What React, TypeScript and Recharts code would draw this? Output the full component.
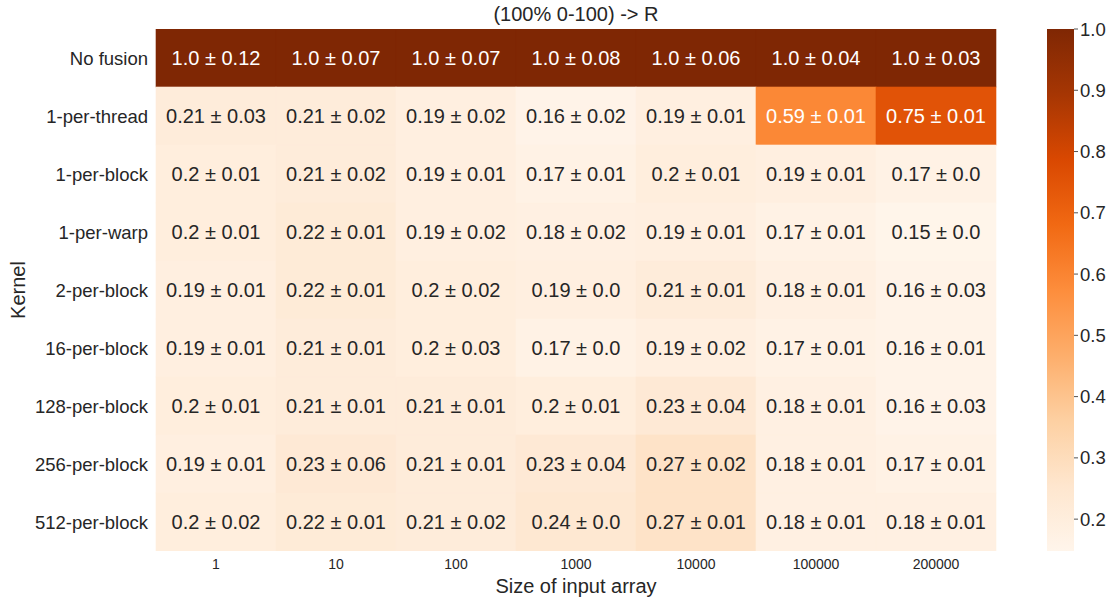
import React from 'react';
import { BarChart, Bar, XAxis, YAxis } from 'recharts';

const sizes = ['1', '10', '100', '1000', '10000', '100000', '200000'];
const kernels = [
  'No fusion', '1-per-thread', '1-per-block', '1-per-warp', '2-per-block',
  '16-per-block', '128-per-block', '256-per-block', '512-per-block',
];

const meanNoFusion = [1.0, 1.0, 1.0, 1.0, 1.0, 1.0, 1.0];
const stdNoFusion = [0.12, 0.07, 0.07, 0.08, 0.06, 0.04, 0.03];
const mean1PerThread = [0.21, 0.21, 0.19, 0.16, 0.19, 0.59, 0.75];
const std1PerThread = [0.03, 0.02, 0.02, 0.02, 0.01, 0.01, 0.01];
const mean1PerBlock = [0.2, 0.21, 0.19, 0.17, 0.2, 0.19, 0.17];
const std1PerBlock = [0.01, 0.02, 0.01, 0.01, 0.01, 0.01, 0.0];
const mean1PerWarp = [0.2, 0.22, 0.19, 0.18, 0.19, 0.17, 0.15];
const std1PerWarp = [0.01, 0.01, 0.02, 0.02, 0.01, 0.01, 0.0];
const mean2PerBlock = [0.19, 0.22, 0.2, 0.19, 0.21, 0.18, 0.16];
const std2PerBlock = [0.01, 0.01, 0.02, 0.0, 0.01, 0.01, 0.03];
const mean16PerBlock = [0.19, 0.21, 0.2, 0.17, 0.19, 0.17, 0.16];
const std16PerBlock = [0.01, 0.01, 0.03, 0.0, 0.02, 0.01, 0.01];
const mean128PerBlock = [0.2, 0.21, 0.21, 0.2, 0.23, 0.18, 0.16];
const std128PerBlock = [0.01, 0.01, 0.01, 0.01, 0.04, 0.01, 0.03];
const mean256PerBlock = [0.19, 0.23, 0.21, 0.23, 0.27, 0.18, 0.17];
const std256PerBlock = [0.01, 0.06, 0.01, 0.04, 0.02, 0.01, 0.01];
const mean512PerBlock = [0.2, 0.22, 0.21, 0.24, 0.27, 0.18, 0.18];
const std512PerBlock = [0.02, 0.01, 0.02, 0.0, 0.01, 0.01, 0.01];

const colorbarTicks = [0.2, 0.3, 0.4, 0.5, 0.6, 0.7, 0.8, 0.9, 1.0];
const vMin = 0.148;
const vMax = 1.0;

const means = [meanNoFusion, mean1PerThread, mean1PerBlock, mean1PerWarp, mean2PerBlock, mean16PerBlock, mean128PerBlock, mean256PerBlock, mean512PerBlock];
const stds = [stdNoFusion, std1PerThread, std1PerBlock, std1PerWarp, std2PerBlock, std16PerBlock, std128PerBlock, std256PerBlock, std512PerBlock];

const ORANGES: number[][] = [
  [255, 245, 235], [254, 230, 206], [253, 208, 162], [253, 174, 107], [253, 141, 60],
  [241, 105, 19], [217, 72, 1], [166, 54, 3], [127, 39, 4],
];

function orangesRgb(t: number): number[] {
  const c = Math.max(0, Math.min(1, t)) * (ORANGES.length - 1);
  const i = Math.min(Math.floor(c), ORANGES.length - 2);
  const f = c - i;
  const a = ORANGES[i];
  const b = ORANGES[i + 1];
  return [0, 1, 2].map((k) => a[k] + (b[k] - a[k]) * f);
}
const rgbStr = (c: number[]) => `rgb(${c.map((v) => Math.round(v)).join(',')})`;
function lum(c: number[]) {
  const l = c.map((v) => {
    const s = v / 255;
    return s <= 0.03928 ? s / 12.92 : Math.pow((s + 0.055) / 1.055, 2.4);
  });
  return 0.2126 * l[0] + 0.7152 * l[1] + 0.0722 * l[2];
}
const fmt = (n: number) => (Number.isInteger(n) ? n.toFixed(1) : String(n));

const FONT = '"Liberation Sans", Arial, sans-serif';
const TXT = '#262626';

const data = sizes.map((s, col) => ({ size: s, col }));
const gradStops = ORANGES.map((c, i) => ({ offset: i / (ORANGES.length - 1), color: rgbStr(c) }));

export default function App() {
  return (
    <div style={{ position: 'absolute', left: 0, top: 0, width: 1116, height: 601, background: '#fff', fontFamily: FONT }}>
      <div style={{ position: 'absolute', left: 156, width: 840, top: 3, textAlign: 'center', fontSize: 20, color: TXT, fontFamily: FONT, lineHeight: '22px' }}>
        (100% 0-100) -&gt; R
      </div>
      <div style={{ position: 'absolute', left: 0, top: 0 }}>
        <BarChart width={1000} height={601} data={data} margin={{ top: 29, right: 4, left: 10, bottom: 0 }} barCategoryGap={0} barGap={0}>
          <XAxis
            dataKey="size"
            type="category"
            height={50}
            tickLine={false}
            axisLine={false}
            tick={{ fontSize: 14, fill: TXT, fontFamily: FONT }}
            label={{ value: 'Size of input array', position: 'insideBottom', offset: 8, style: { fontSize: 20, fill: TXT, fontFamily: FONT } }}
          />
          <YAxis
            type="number"
            domain={[0, kernels.length]}
            reversed
            allowDataOverflow
            width={146}
            ticks={kernels.map((_, i) => i + 0.5)}
            interval={0}
            tickFormatter={(v: number) => kernels[Math.floor(v)] ?? ''}
            tickLine={false}
            axisLine={false}
            tick={{ fontSize: 18.5, fill: TXT, fontFamily: FONT }}
            label={{ value: 'Kernel', angle: -90, position: 'insideLeft', offset: 8, style: { textAnchor: 'middle', fontSize: 20, fill: TXT, fontFamily: FONT } }}
          />
          {kernels.map((k, row) => (
            <Bar
              key={k}
              name={k}
              dataKey={() => 1}
              stackId="cells"
              isAnimationActive={false}
              shape={(props: any) => {
                const { x, y, width, height, payload } = props;
                const col = payload.col;
                const m = means[row][col];
                const sd = stds[row][col];
                const c = orangesRgb((m - vMin) / (vMax - vMin));
                const fill = rgbStr(c);
                const tc = lum(c) > 0.408 ? TXT : '#ffffff';
                const rx = Math.min(x, x + width);
                const ry = Math.min(y, y + height);
                const rw = Math.abs(width);
                const rh = Math.abs(height);
                return (
                  <g>
                    <rect x={rx} y={ry} width={rw} height={rh} fill={fill} stroke={fill} strokeWidth={0.6} />
                    <text x={rx + rw / 2} y={ry + rh / 2} textAnchor="middle" dominantBaseline="central" fontSize={20} fill={tc} fontFamily={FONT}>
                      {`${fmt(m)} ± ${fmt(sd)}`}
                    </text>
                  </g>
                );
              }}
            />
          ))}
        </BarChart>
      </div>
      <div style={{ position: 'absolute', left: 1000, top: 0 }}>
        <BarChart width={116} height={601} data={[{ name: 'cb', range: [vMin, vMax] }]} margin={{ top: 29, right: 0, left: 47, bottom: 50 }} barCategoryGap={0}>
          <defs>
            <linearGradient id="cbGrad" x1="0" y1="1" x2="0" y2="0">
              {gradStops.map((s, i) => (
                <stop key={i} offset={s.offset} stopColor={s.color} />
              ))}
            </linearGradient>
          </defs>
          <XAxis dataKey="name" hide />
          <YAxis
            orientation="right"
            type="number"
            domain={[vMin, vMax]}
            allowDataOverflow
            width={42}
            ticks={colorbarTicks}
            interval={0}
            tickFormatter={(v: number) => v.toFixed(1)}
            tickSize={4}
            tickMargin={2}
            axisLine={false}
            tickLine={{ stroke: TXT, strokeWidth: 0.8 }}
            tick={{ fontSize: 18.5, fill: TXT, fontFamily: FONT }}
          />
          <Bar dataKey="range" fill="url(#cbGrad)" isAnimationActive={false} />
        </BarChart>
      </div>
    </div>
  );
}
